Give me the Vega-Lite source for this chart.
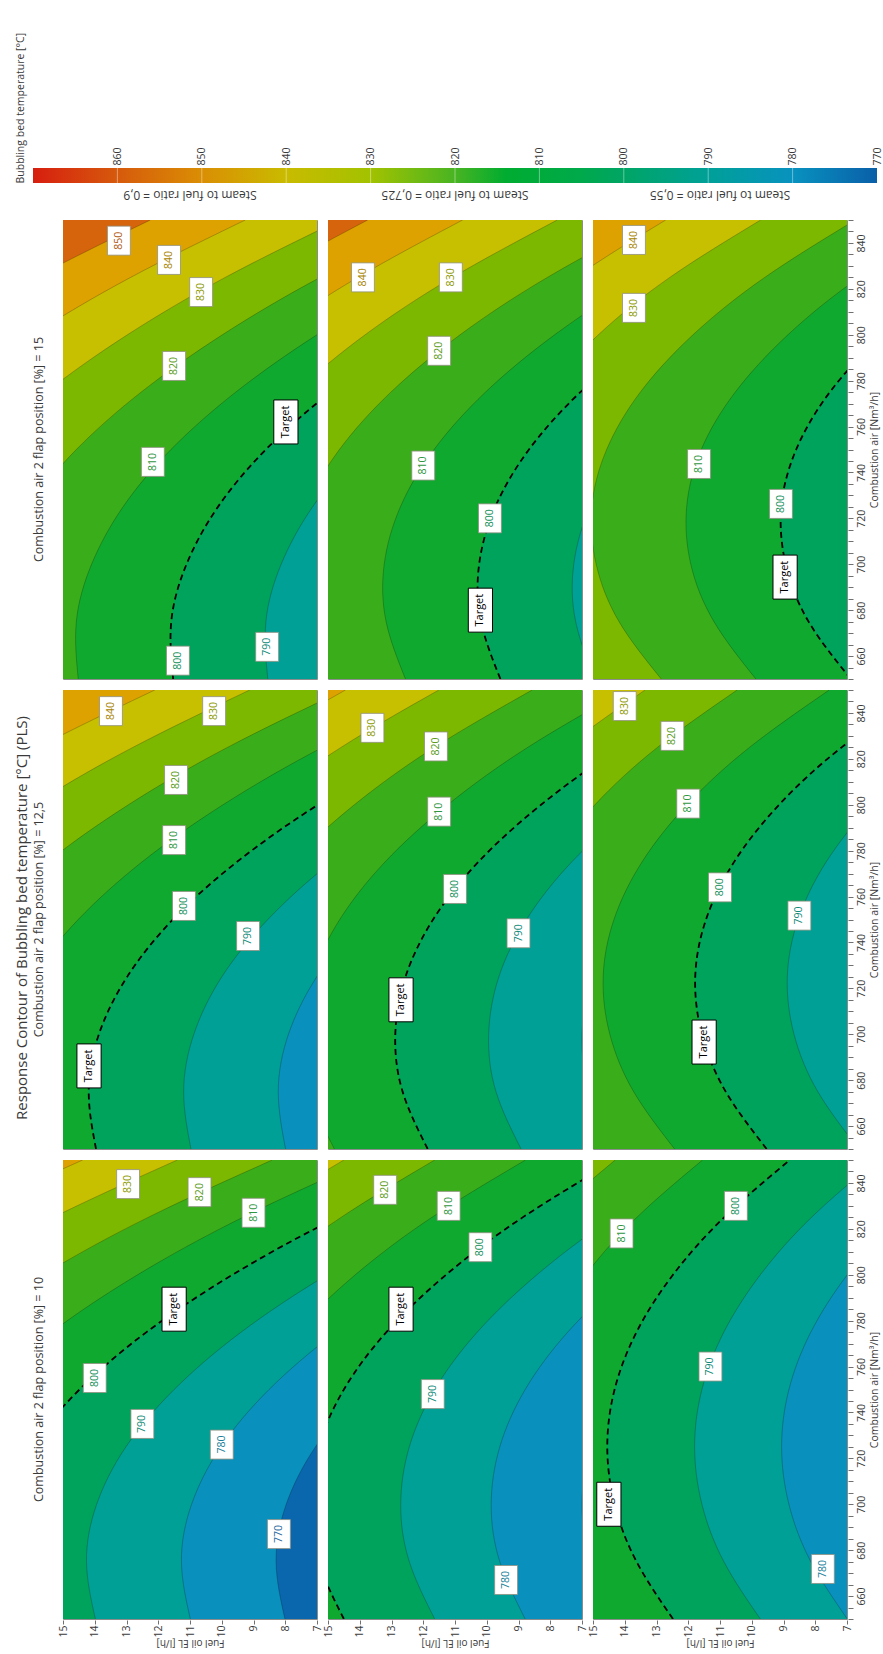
{
"$schema": "https://vega.github.io/schema/vega-lite/v6.json",
"background": "white",
"padding": {"left": 14, "top": 8, "right": 0, "bottom": 7},
"spacing": 4,
"config": {
  "font": "Open Sans",
  "view": {"stroke": "#8c8c8c", "strokeWidth": 1},
  "axis": {"labelFont": "Open Sans", "titleFont": "Open Sans", "labelColor": "#3a3a3a", "titleColor": "#3a3a3a", "tickColor": "#707070", "domain": false, "grid": false, "labelFontSize": 10.5, "titleFontSize": 10.5, "titleFontWeight": "normal"},
  "header": {"labelFont": "Open Sans", "labelColor": "#3a3a3a"},
  "title": {"font": "Open Sans", "fontWeight": "normal", "color": "#3a3a3a"},
  "text": {"font": "Open Sans"}
},
"vconcat": [
{
  "width": 814, "height": 175,
  "view": {"stroke": null},
  "title": {"text": "Bubbling bed temperature [°C]", "orient": "left", "anchor": "start", "fontSize": 10.5, "offset": 7},
  "layer": [
    {
      "data": {"values": [{"hi": 870, "lo": 770}]},
      "mark": {"type": "rect", "fill": {"gradient": "linear", "x1": 0, "y1": 0, "x2": 1, "y2": 0, "stops": [
        {"offset": 0, "color": "#d71e10"},
        {"offset": 0.1, "color": "#d65a0c"},
        {"offset": 0.2, "color": "#da8e04"},
        {"offset": 0.3, "color": "#c9bb00"},
        {"offset": 0.4, "color": "#a2c200"},
        {"offset": 0.5, "color": "#48b422"},
        {"offset": 0.56, "color": "#00ac30"},
        {"offset": 0.65, "color": "#00a94b"},
        {"offset": 0.7, "color": "#00a565"},
        {"offset": 0.8, "color": "#00a098"},
        {"offset": 0.9, "color": "#0892bf"},
        {"offset": 1, "color": "#0a5fa8"}]}},
      "encoding": {
        "x": {"field": "hi", "type": "quantitative", "scale": {"domain": [770, 870], "range": [814, -30], "nice": false, "zero": false},
              "axis": {"orient": "top", "offset": -160, "values": [770,780,790,800,810,820,830,840,850,860], "labelAngle": 270, "labelAlign": "left", "labelBaseline": "middle", "ticks": false, "tickSize": 0, "labelPadding": 3, "grid": false, "title": null, "labelFlush": false, "labelFontSize": 10.5}},
        "x2": {"field": "lo"},
        "y": {"datum": 0, "type": "quantitative", "scale": {"domain": [0, 11.6667], "nice": false, "zero": false}, "axis": null},
        "y2": {"datum": 1}
      }
    },
    {
      "data": {"values": [{"hi": 780},{"hi": 790},{"hi": 800},{"hi": 810},{"hi": 820},{"hi": 830},{"hi": 840},{"hi": 850},{"hi": 860}]},
      "mark": {"type": "rule", "color": "#ffffff", "opacity": 0.4, "strokeWidth": 1},
      "encoding": {"x": {"field": "hi", "type": "quantitative"}, "y": {"datum": 0}, "y2": {"datum": 1}}
    }
  ]
},
{
  "title": {"text": "Response Contour of Bubbling bed temperature [°C] (PLS)", "orient": "left", "anchor": "middle", "fontSize": 15, "offset": 3},
  "data": {"values": [
{"c":"0,9","r":"15","k":"a","L":780,"a":650,"f":5.56},{"c":"0,9","r":"15","k":"a","L":780,"a":850,"f":-8.65},
{"c":"0,9","r":"15","k":"a","L":790,"a":650,"f":8.55},{"c":"0,9","r":"15","k":"a","L":790,"a":675,"f":8.61},{"c":"0,9","r":"15","k":"a","L":790,"a":700,"f":8.13},{"c":"0,9","r":"15","k":"a","L":790,"a":725,"f":7.14},{"c":"0,9","r":"15","k":"a","L":790,"a":750,"f":5.63},{"c":"0,9","r":"15","k":"a","L":790,"a":775,"f":3.59},{"c":"0,9","r":"15","k":"a","L":790,"a":800,"f":1.03},{"c":"0,9","r":"15","k":"a","L":790,"a":825,"f":-2.06},{"c":"0,9","r":"15","k":"a","L":790,"a":850,"f":-5.66},
{"c":"0,9","r":"15","k":"a","L":800,"a":650,"f":11.53},{"c":"0,9","r":"15","k":"a","L":800,"a":675,"f":11.59},{"c":"0,9","r":"15","k":"a","L":800,"a":700,"f":11.11},{"c":"0,9","r":"15","k":"a","L":800,"a":725,"f":10.12},{"c":"0,9","r":"15","k":"a","L":800,"a":750,"f":8.61},{"c":"0,9","r":"15","k":"a","L":800,"a":775,"f":6.57},{"c":"0,9","r":"15","k":"a","L":800,"a":800,"f":4.01},{"c":"0,9","r":"15","k":"a","L":800,"a":825,"f":0.93},{"c":"0,9","r":"15","k":"a","L":800,"a":850,"f":-2.68},
{"c":"0,9","r":"15","k":"a","L":810,"a":650,"f":14.52},{"c":"0,9","r":"15","k":"a","L":810,"a":675,"f":14.58},{"c":"0,9","r":"15","k":"a","L":810,"a":700,"f":14.10},{"c":"0,9","r":"15","k":"a","L":810,"a":725,"f":13.11},{"c":"0,9","r":"15","k":"a","L":810,"a":750,"f":11.60},{"c":"0,9","r":"15","k":"a","L":810,"a":775,"f":9.56},{"c":"0,9","r":"15","k":"a","L":810,"a":800,"f":7.00},{"c":"0,9","r":"15","k":"a","L":810,"a":825,"f":3.92},{"c":"0,9","r":"15","k":"a","L":810,"a":850,"f":0.31},
{"c":"0,9","r":"15","k":"a","L":820,"a":650,"f":17.50},{"c":"0,9","r":"15","k":"a","L":820,"a":675,"f":17.56},{"c":"0,9","r":"15","k":"a","L":820,"a":700,"f":17.08},{"c":"0,9","r":"15","k":"a","L":820,"a":725,"f":16.09},{"c":"0,9","r":"15","k":"a","L":820,"a":750,"f":14.58},{"c":"0,9","r":"15","k":"a","L":820,"a":775,"f":12.54},{"c":"0,9","r":"15","k":"a","L":820,"a":800,"f":9.98},{"c":"0,9","r":"15","k":"a","L":820,"a":825,"f":6.90},{"c":"0,9","r":"15","k":"a","L":820,"a":850,"f":3.29},
{"c":"0,9","r":"15","k":"a","L":830,"a":650,"f":20.49},{"c":"0,9","r":"15","k":"a","L":830,"a":675,"f":20.55},{"c":"0,9","r":"15","k":"a","L":830,"a":700,"f":20.07},{"c":"0,9","r":"15","k":"a","L":830,"a":725,"f":19.08},{"c":"0,9","r":"15","k":"a","L":830,"a":750,"f":17.57},{"c":"0,9","r":"15","k":"a","L":830,"a":775,"f":15.53},{"c":"0,9","r":"15","k":"a","L":830,"a":800,"f":12.97},{"c":"0,9","r":"15","k":"a","L":830,"a":825,"f":9.89},{"c":"0,9","r":"15","k":"a","L":830,"a":850,"f":6.28},
{"c":"0,9","r":"15","k":"a","L":840,"a":650,"f":23.47},{"c":"0,9","r":"15","k":"a","L":840,"a":675,"f":23.53},{"c":"0,9","r":"15","k":"a","L":840,"a":700,"f":23.05},{"c":"0,9","r":"15","k":"a","L":840,"a":725,"f":22.06},{"c":"0,9","r":"15","k":"a","L":840,"a":750,"f":20.55},{"c":"0,9","r":"15","k":"a","L":840,"a":775,"f":18.51},{"c":"0,9","r":"15","k":"a","L":840,"a":800,"f":15.95},{"c":"0,9","r":"15","k":"a","L":840,"a":825,"f":12.87},{"c":"0,9","r":"15","k":"a","L":840,"a":850,"f":9.26},
{"c":"0,9","r":"15","k":"a","L":850,"a":650,"f":26.46},{"c":"0,9","r":"15","k":"a","L":850,"a":675,"f":26.52},{"c":"0,9","r":"15","k":"a","L":850,"a":700,"f":26.04},{"c":"0,9","r":"15","k":"a","L":850,"a":725,"f":25.05},{"c":"0,9","r":"15","k":"a","L":850,"a":750,"f":23.54},{"c":"0,9","r":"15","k":"a","L":850,"a":775,"f":21.50},{"c":"0,9","r":"15","k":"a","L":850,"a":800,"f":18.94},{"c":"0,9","r":"15","k":"a","L":850,"a":825,"f":15.86},{"c":"0,9","r":"15","k":"a","L":850,"a":850,"f":12.25},

{"c":"0,725","r":"15","k":"a","L":780,"a":650,"f":3.60},{"c":"0,725","r":"15","k":"a","L":780,"a":850,"f":-7.15},
{"c":"0,725","r":"15","k":"a","L":790,"a":650,"f":6.59},{"c":"0,725","r":"15","k":"a","L":790,"a":675,"f":7.20},{"c":"0,725","r":"15","k":"a","L":790,"a":700,"f":7.26},{"c":"0,725","r":"15","k":"a","L":790,"a":725,"f":6.75},{"c":"0,725","r":"15","k":"a","L":790,"a":750,"f":5.69},{"c":"0,725","r":"15","k":"a","L":790,"a":775,"f":4.07},{"c":"0,725","r":"15","k":"a","L":790,"a":800,"f":1.89},{"c":"0,725","r":"15","k":"a","L":790,"a":825,"f":-0.87},{"c":"0,725","r":"15","k":"a","L":790,"a":850,"f":-4.16},
{"c":"0,725","r":"15","k":"a","L":800,"a":650,"f":9.57},{"c":"0,725","r":"15","k":"a","L":800,"a":675,"f":10.18},{"c":"0,725","r":"15","k":"a","L":800,"a":700,"f":10.24},{"c":"0,725","r":"15","k":"a","L":800,"a":725,"f":9.73},{"c":"0,725","r":"15","k":"a","L":800,"a":750,"f":8.67},{"c":"0,725","r":"15","k":"a","L":800,"a":775,"f":7.05},{"c":"0,725","r":"15","k":"a","L":800,"a":800,"f":4.87},{"c":"0,725","r":"15","k":"a","L":800,"a":825,"f":2.12},{"c":"0,725","r":"15","k":"a","L":800,"a":850,"f":-1.18},
{"c":"0,725","r":"15","k":"a","L":810,"a":650,"f":12.56},{"c":"0,725","r":"15","k":"a","L":810,"a":675,"f":13.17},{"c":"0,725","r":"15","k":"a","L":810,"a":700,"f":13.23},{"c":"0,725","r":"15","k":"a","L":810,"a":725,"f":12.72},{"c":"0,725","r":"15","k":"a","L":810,"a":750,"f":11.66},{"c":"0,725","r":"15","k":"a","L":810,"a":775,"f":10.04},{"c":"0,725","r":"15","k":"a","L":810,"a":800,"f":7.86},{"c":"0,725","r":"15","k":"a","L":810,"a":825,"f":5.11},{"c":"0,725","r":"15","k":"a","L":810,"a":850,"f":1.81},
{"c":"0,725","r":"15","k":"a","L":820,"a":650,"f":15.54},{"c":"0,725","r":"15","k":"a","L":820,"a":675,"f":16.15},{"c":"0,725","r":"15","k":"a","L":820,"a":700,"f":16.21},{"c":"0,725","r":"15","k":"a","L":820,"a":725,"f":15.70},{"c":"0,725","r":"15","k":"a","L":820,"a":750,"f":14.64},{"c":"0,725","r":"15","k":"a","L":820,"a":775,"f":13.02},{"c":"0,725","r":"15","k":"a","L":820,"a":800,"f":10.84},{"c":"0,725","r":"15","k":"a","L":820,"a":825,"f":8.09},{"c":"0,725","r":"15","k":"a","L":820,"a":850,"f":4.79},
{"c":"0,725","r":"15","k":"a","L":830,"a":650,"f":18.53},{"c":"0,725","r":"15","k":"a","L":830,"a":675,"f":19.14},{"c":"0,725","r":"15","k":"a","L":830,"a":700,"f":19.20},{"c":"0,725","r":"15","k":"a","L":830,"a":725,"f":18.69},{"c":"0,725","r":"15","k":"a","L":830,"a":750,"f":17.63},{"c":"0,725","r":"15","k":"a","L":830,"a":775,"f":16.01},{"c":"0,725","r":"15","k":"a","L":830,"a":800,"f":13.83},{"c":"0,725","r":"15","k":"a","L":830,"a":825,"f":11.08},{"c":"0,725","r":"15","k":"a","L":830,"a":850,"f":7.78},
{"c":"0,725","r":"15","k":"a","L":840,"a":650,"f":21.51},{"c":"0,725","r":"15","k":"a","L":840,"a":675,"f":22.12},{"c":"0,725","r":"15","k":"a","L":840,"a":700,"f":22.18},{"c":"0,725","r":"15","k":"a","L":840,"a":725,"f":21.67},{"c":"0,725","r":"15","k":"a","L":840,"a":750,"f":20.61},{"c":"0,725","r":"15","k":"a","L":840,"a":775,"f":18.99},{"c":"0,725","r":"15","k":"a","L":840,"a":800,"f":16.81},{"c":"0,725","r":"15","k":"a","L":840,"a":825,"f":14.06},{"c":"0,725","r":"15","k":"a","L":840,"a":850,"f":10.76},
{"c":"0,725","r":"15","k":"a","L":850,"a":650,"f":24.50},{"c":"0,725","r":"15","k":"a","L":850,"a":675,"f":25.11},{"c":"0,725","r":"15","k":"a","L":850,"a":700,"f":25.17},{"c":"0,725","r":"15","k":"a","L":850,"a":725,"f":24.66},{"c":"0,725","r":"15","k":"a","L":850,"a":750,"f":23.60},{"c":"0,725","r":"15","k":"a","L":850,"a":775,"f":21.98},{"c":"0,725","r":"15","k":"a","L":850,"a":800,"f":19.80},{"c":"0,725","r":"15","k":"a","L":850,"a":825,"f":17.05},{"c":"0,725","r":"15","k":"a","L":850,"a":850,"f":13.75},

{"c":"0,55","r":"15","k":"a","L":790,"a":650,"f":3.90},{"c":"0,55","r":"15","k":"a","L":790,"a":850,"f":-2.22},
{"c":"0,55","r":"15","k":"a","L":800,"a":650,"f":6.88},{"c":"0,55","r":"15","k":"a","L":800,"a":675,"f":8.21},{"c":"0,55","r":"15","k":"a","L":800,"a":700,"f":8.93},{"c":"0,55","r":"15","k":"a","L":800,"a":725,"f":9.07},{"c":"0,55","r":"15","k":"a","L":800,"a":750,"f":8.60},{"c":"0,55","r":"15","k":"a","L":800,"a":775,"f":7.54},{"c":"0,55","r":"15","k":"a","L":800,"a":800,"f":5.88},{"c":"0,55","r":"15","k":"a","L":800,"a":825,"f":3.62},{"c":"0,55","r":"15","k":"a","L":800,"a":850,"f":0.77},
{"c":"0,55","r":"15","k":"a","L":810,"a":650,"f":9.87},{"c":"0,55","r":"15","k":"a","L":810,"a":675,"f":11.19},{"c":"0,55","r":"15","k":"a","L":810,"a":700,"f":11.92},{"c":"0,55","r":"15","k":"a","L":810,"a":725,"f":12.05},{"c":"0,55","r":"15","k":"a","L":810,"a":750,"f":11.59},{"c":"0,55","r":"15","k":"a","L":810,"a":775,"f":10.52},{"c":"0,55","r":"15","k":"a","L":810,"a":800,"f":8.86},{"c":"0,55","r":"15","k":"a","L":810,"a":825,"f":6.61},{"c":"0,55","r":"15","k":"a","L":810,"a":850,"f":3.75},
{"c":"0,55","r":"15","k":"a","L":820,"a":650,"f":12.85},{"c":"0,55","r":"15","k":"a","L":820,"a":675,"f":14.18},{"c":"0,55","r":"15","k":"a","L":820,"a":700,"f":14.90},{"c":"0,55","r":"15","k":"a","L":820,"a":725,"f":15.04},{"c":"0,55","r":"15","k":"a","L":820,"a":750,"f":14.57},{"c":"0,55","r":"15","k":"a","L":820,"a":775,"f":13.51},{"c":"0,55","r":"15","k":"a","L":820,"a":800,"f":11.85},{"c":"0,55","r":"15","k":"a","L":820,"a":825,"f":9.59},{"c":"0,55","r":"15","k":"a","L":820,"a":850,"f":6.74},
{"c":"0,55","r":"15","k":"a","L":830,"a":650,"f":15.84},{"c":"0,55","r":"15","k":"a","L":830,"a":675,"f":17.16},{"c":"0,55","r":"15","k":"a","L":830,"a":700,"f":17.89},{"c":"0,55","r":"15","k":"a","L":830,"a":725,"f":18.02},{"c":"0,55","r":"15","k":"a","L":830,"a":750,"f":17.56},{"c":"0,55","r":"15","k":"a","L":830,"a":775,"f":16.49},{"c":"0,55","r":"15","k":"a","L":830,"a":800,"f":14.83},{"c":"0,55","r":"15","k":"a","L":830,"a":825,"f":12.58},{"c":"0,55","r":"15","k":"a","L":830,"a":850,"f":9.72},
{"c":"0,55","r":"15","k":"a","L":840,"a":650,"f":18.82},{"c":"0,55","r":"15","k":"a","L":840,"a":675,"f":20.15},{"c":"0,55","r":"15","k":"a","L":840,"a":700,"f":20.87},{"c":"0,55","r":"15","k":"a","L":840,"a":725,"f":21.01},{"c":"0,55","r":"15","k":"a","L":840,"a":750,"f":20.54},{"c":"0,55","r":"15","k":"a","L":840,"a":775,"f":19.48},{"c":"0,55","r":"15","k":"a","L":840,"a":800,"f":17.82},{"c":"0,55","r":"15","k":"a","L":840,"a":825,"f":15.56},{"c":"0,55","r":"15","k":"a","L":840,"a":850,"f":12.71},

{"c":"0,9","r":"12,5","k":"a","L":770,"a":650,"f":5.00},{"c":"0,9","r":"12,5","k":"a","L":770,"a":850,"f":-8.79},
{"c":"0,9","r":"12,5","k":"a","L":780,"a":650,"f":7.99},{"c":"0,9","r":"12,5","k":"a","L":780,"a":675,"f":8.22},{"c":"0,9","r":"12,5","k":"a","L":780,"a":700,"f":7.90},{"c":"0,9","r":"12,5","k":"a","L":780,"a":725,"f":7.01},{"c":"0,9","r":"12,5","k":"a","L":780,"a":750,"f":5.57},{"c":"0,9","r":"12,5","k":"a","L":780,"a":775,"f":3.56},{"c":"0,9","r":"12,5","k":"a","L":780,"a":800,"f":1.00},{"c":"0,9","r":"12,5","k":"a","L":780,"a":825,"f":-2.12},{"c":"0,9","r":"12,5","k":"a","L":780,"a":850,"f":-5.80},
{"c":"0,9","r":"12,5","k":"a","L":790,"a":650,"f":10.97},{"c":"0,9","r":"12,5","k":"a","L":790,"a":675,"f":11.20},{"c":"0,9","r":"12,5","k":"a","L":790,"a":700,"f":10.88},{"c":"0,9","r":"12,5","k":"a","L":790,"a":725,"f":10.00},{"c":"0,9","r":"12,5","k":"a","L":790,"a":750,"f":8.55},{"c":"0,9","r":"12,5","k":"a","L":790,"a":775,"f":6.55},{"c":"0,9","r":"12,5","k":"a","L":790,"a":800,"f":3.99},{"c":"0,9","r":"12,5","k":"a","L":790,"a":825,"f":0.86},{"c":"0,9","r":"12,5","k":"a","L":790,"a":850,"f":-2.82},
{"c":"0,9","r":"12,5","k":"a","L":800,"a":650,"f":13.96},{"c":"0,9","r":"12,5","k":"a","L":800,"a":675,"f":14.19},{"c":"0,9","r":"12,5","k":"a","L":800,"a":700,"f":13.87},{"c":"0,9","r":"12,5","k":"a","L":800,"a":725,"f":12.98},{"c":"0,9","r":"12,5","k":"a","L":800,"a":750,"f":11.54},{"c":"0,9","r":"12,5","k":"a","L":800,"a":775,"f":9.53},{"c":"0,9","r":"12,5","k":"a","L":800,"a":800,"f":6.97},{"c":"0,9","r":"12,5","k":"a","L":800,"a":825,"f":3.85},{"c":"0,9","r":"12,5","k":"a","L":800,"a":850,"f":0.17},
{"c":"0,9","r":"12,5","k":"a","L":810,"a":650,"f":16.94},{"c":"0,9","r":"12,5","k":"a","L":810,"a":675,"f":17.17},{"c":"0,9","r":"12,5","k":"a","L":810,"a":700,"f":16.85},{"c":"0,9","r":"12,5","k":"a","L":810,"a":725,"f":15.97},{"c":"0,9","r":"12,5","k":"a","L":810,"a":750,"f":14.52},{"c":"0,9","r":"12,5","k":"a","L":810,"a":775,"f":12.52},{"c":"0,9","r":"12,5","k":"a","L":810,"a":800,"f":9.96},{"c":"0,9","r":"12,5","k":"a","L":810,"a":825,"f":6.83},{"c":"0,9","r":"12,5","k":"a","L":810,"a":850,"f":3.15},
{"c":"0,9","r":"12,5","k":"a","L":820,"a":650,"f":19.93},{"c":"0,9","r":"12,5","k":"a","L":820,"a":675,"f":20.16},{"c":"0,9","r":"12,5","k":"a","L":820,"a":700,"f":19.84},{"c":"0,9","r":"12,5","k":"a","L":820,"a":725,"f":18.95},{"c":"0,9","r":"12,5","k":"a","L":820,"a":750,"f":17.51},{"c":"0,9","r":"12,5","k":"a","L":820,"a":775,"f":15.50},{"c":"0,9","r":"12,5","k":"a","L":820,"a":800,"f":12.94},{"c":"0,9","r":"12,5","k":"a","L":820,"a":825,"f":9.82},{"c":"0,9","r":"12,5","k":"a","L":820,"a":850,"f":6.14},
{"c":"0,9","r":"12,5","k":"a","L":830,"a":650,"f":22.91},{"c":"0,9","r":"12,5","k":"a","L":830,"a":675,"f":23.14},{"c":"0,9","r":"12,5","k":"a","L":830,"a":700,"f":22.82},{"c":"0,9","r":"12,5","k":"a","L":830,"a":725,"f":21.94},{"c":"0,9","r":"12,5","k":"a","L":830,"a":750,"f":20.49},{"c":"0,9","r":"12,5","k":"a","L":830,"a":775,"f":18.49},{"c":"0,9","r":"12,5","k":"a","L":830,"a":800,"f":15.93},{"c":"0,9","r":"12,5","k":"a","L":830,"a":825,"f":12.80},{"c":"0,9","r":"12,5","k":"a","L":830,"a":850,"f":9.12},
{"c":"0,9","r":"12,5","k":"a","L":840,"a":650,"f":25.90},{"c":"0,9","r":"12,5","k":"a","L":840,"a":675,"f":26.13},{"c":"0,9","r":"12,5","k":"a","L":840,"a":700,"f":25.81},{"c":"0,9","r":"12,5","k":"a","L":840,"a":725,"f":24.92},{"c":"0,9","r":"12,5","k":"a","L":840,"a":750,"f":23.48},{"c":"0,9","r":"12,5","k":"a","L":840,"a":775,"f":21.47},{"c":"0,9","r":"12,5","k":"a","L":840,"a":800,"f":18.91},{"c":"0,9","r":"12,5","k":"a","L":840,"a":825,"f":15.79},{"c":"0,9","r":"12,5","k":"a","L":840,"a":850,"f":12.11},

{"c":"0,725","r":"12,5","k":"a","L":770,"a":650,"f":3.04},{"c":"0,725","r":"12,5","k":"a","L":770,"a":850,"f":-6.13},
{"c":"0,725","r":"12,5","k":"a","L":780,"a":650,"f":5.98},{"c":"0,725","r":"12,5","k":"a","L":780,"a":675,"f":6.77},{"c":"0,725","r":"12,5","k":"a","L":780,"a":700,"f":7.00},{"c":"0,725","r":"12,5","k":"a","L":780,"a":725,"f":6.68},{"c":"0,725","r":"12,5","k":"a","L":780,"a":750,"f":5.81},{"c":"0,725","r":"12,5","k":"a","L":780,"a":775,"f":4.39},{"c":"0,725","r":"12,5","k":"a","L":780,"a":800,"f":2.41},{"c":"0,725","r":"12,5","k":"a","L":780,"a":825,"f":-0.11},{"c":"0,725","r":"12,5","k":"a","L":780,"a":850,"f":-3.19},
{"c":"0,725","r":"12,5","k":"a","L":790,"a":650,"f":8.92},{"c":"0,725","r":"12,5","k":"a","L":790,"a":675,"f":9.71},{"c":"0,725","r":"12,5","k":"a","L":790,"a":700,"f":9.94},{"c":"0,725","r":"12,5","k":"a","L":790,"a":725,"f":9.62},{"c":"0,725","r":"12,5","k":"a","L":790,"a":750,"f":8.75},{"c":"0,725","r":"12,5","k":"a","L":790,"a":775,"f":7.33},{"c":"0,725","r":"12,5","k":"a","L":790,"a":800,"f":5.35},{"c":"0,725","r":"12,5","k":"a","L":790,"a":825,"f":2.83},{"c":"0,725","r":"12,5","k":"a","L":790,"a":850,"f":-0.25},
{"c":"0,725","r":"12,5","k":"a","L":800,"a":650,"f":11.86},{"c":"0,725","r":"12,5","k":"a","L":800,"a":675,"f":12.65},{"c":"0,725","r":"12,5","k":"a","L":800,"a":700,"f":12.88},{"c":"0,725","r":"12,5","k":"a","L":800,"a":725,"f":12.56},{"c":"0,725","r":"12,5","k":"a","L":800,"a":750,"f":11.69},{"c":"0,725","r":"12,5","k":"a","L":800,"a":775,"f":10.27},{"c":"0,725","r":"12,5","k":"a","L":800,"a":800,"f":8.29},{"c":"0,725","r":"12,5","k":"a","L":800,"a":825,"f":5.77},{"c":"0,725","r":"12,5","k":"a","L":800,"a":850,"f":2.69},
{"c":"0,725","r":"12,5","k":"a","L":810,"a":650,"f":14.80},{"c":"0,725","r":"12,5","k":"a","L":810,"a":675,"f":15.59},{"c":"0,725","r":"12,5","k":"a","L":810,"a":700,"f":15.82},{"c":"0,725","r":"12,5","k":"a","L":810,"a":725,"f":15.50},{"c":"0,725","r":"12,5","k":"a","L":810,"a":750,"f":14.63},{"c":"0,725","r":"12,5","k":"a","L":810,"a":775,"f":13.21},{"c":"0,725","r":"12,5","k":"a","L":810,"a":800,"f":11.23},{"c":"0,725","r":"12,5","k":"a","L":810,"a":825,"f":8.71},{"c":"0,725","r":"12,5","k":"a","L":810,"a":850,"f":5.63},
{"c":"0,725","r":"12,5","k":"a","L":820,"a":650,"f":17.74},{"c":"0,725","r":"12,5","k":"a","L":820,"a":675,"f":18.53},{"c":"0,725","r":"12,5","k":"a","L":820,"a":700,"f":18.76},{"c":"0,725","r":"12,5","k":"a","L":820,"a":725,"f":18.44},{"c":"0,725","r":"12,5","k":"a","L":820,"a":750,"f":17.57},{"c":"0,725","r":"12,5","k":"a","L":820,"a":775,"f":16.15},{"c":"0,725","r":"12,5","k":"a","L":820,"a":800,"f":14.17},{"c":"0,725","r":"12,5","k":"a","L":820,"a":825,"f":11.65},{"c":"0,725","r":"12,5","k":"a","L":820,"a":850,"f":8.57},
{"c":"0,725","r":"12,5","k":"a","L":830,"a":650,"f":20.68},{"c":"0,725","r":"12,5","k":"a","L":830,"a":675,"f":21.47},{"c":"0,725","r":"12,5","k":"a","L":830,"a":700,"f":21.70},{"c":"0,725","r":"12,5","k":"a","L":830,"a":725,"f":21.38},{"c":"0,725","r":"12,5","k":"a","L":830,"a":750,"f":20.51},{"c":"0,725","r":"12,5","k":"a","L":830,"a":775,"f":19.09},{"c":"0,725","r":"12,5","k":"a","L":830,"a":800,"f":17.11},{"c":"0,725","r":"12,5","k":"a","L":830,"a":825,"f":14.59},{"c":"0,725","r":"12,5","k":"a","L":830,"a":850,"f":11.51},
{"c":"0,725","r":"12,5","k":"a","L":840,"a":650,"f":23.62},{"c":"0,725","r":"12,5","k":"a","L":840,"a":675,"f":24.41},{"c":"0,725","r":"12,5","k":"a","L":840,"a":700,"f":24.64},{"c":"0,725","r":"12,5","k":"a","L":840,"a":725,"f":24.32},{"c":"0,725","r":"12,5","k":"a","L":840,"a":750,"f":23.45},{"c":"0,725","r":"12,5","k":"a","L":840,"a":775,"f":22.03},{"c":"0,725","r":"12,5","k":"a","L":840,"a":800,"f":20.05},{"c":"0,725","r":"12,5","k":"a","L":840,"a":825,"f":17.53},{"c":"0,725","r":"12,5","k":"a","L":840,"a":850,"f":14.45},

{"c":"0,55","r":"12,5","k":"a","L":780,"a":650,"f":3.73},{"c":"0,55","r":"12,5","k":"a","L":780,"a":850,"f":-1.14},
{"c":"0,55","r":"12,5","k":"a","L":790,"a":650,"f":6.63},{"c":"0,55","r":"12,5","k":"a","L":790,"a":675,"f":7.92},{"c":"0,55","r":"12,5","k":"a","L":790,"a":700,"f":8.67},{"c":"0,55","r":"12,5","k":"a","L":790,"a":725,"f":8.88},{"c":"0,55","r":"12,5","k":"a","L":790,"a":750,"f":8.54},{"c":"0,55","r":"12,5","k":"a","L":790,"a":775,"f":7.66},{"c":"0,55","r":"12,5","k":"a","L":790,"a":800,"f":6.24},{"c":"0,55","r":"12,5","k":"a","L":790,"a":825,"f":4.27},{"c":"0,55","r":"12,5","k":"a","L":790,"a":850,"f":1.76},
{"c":"0,55","r":"12,5","k":"a","L":800,"a":650,"f":9.53},{"c":"0,55","r":"12,5","k":"a","L":800,"a":675,"f":10.82},{"c":"0,55","r":"12,5","k":"a","L":800,"a":700,"f":11.57},{"c":"0,55","r":"12,5","k":"a","L":800,"a":725,"f":11.78},{"c":"0,55","r":"12,5","k":"a","L":800,"a":750,"f":11.44},{"c":"0,55","r":"12,5","k":"a","L":800,"a":775,"f":10.56},{"c":"0,55","r":"12,5","k":"a","L":800,"a":800,"f":9.14},{"c":"0,55","r":"12,5","k":"a","L":800,"a":825,"f":7.17},{"c":"0,55","r":"12,5","k":"a","L":800,"a":850,"f":4.66},
{"c":"0,55","r":"12,5","k":"a","L":810,"a":650,"f":12.43},{"c":"0,55","r":"12,5","k":"a","L":810,"a":675,"f":13.72},{"c":"0,55","r":"12,5","k":"a","L":810,"a":700,"f":14.47},{"c":"0,55","r":"12,5","k":"a","L":810,"a":725,"f":14.68},{"c":"0,55","r":"12,5","k":"a","L":810,"a":750,"f":14.34},{"c":"0,55","r":"12,5","k":"a","L":810,"a":775,"f":13.46},{"c":"0,55","r":"12,5","k":"a","L":810,"a":800,"f":12.04},{"c":"0,55","r":"12,5","k":"a","L":810,"a":825,"f":10.07},{"c":"0,55","r":"12,5","k":"a","L":810,"a":850,"f":7.56},
{"c":"0,55","r":"12,5","k":"a","L":820,"a":650,"f":15.33},{"c":"0,55","r":"12,5","k":"a","L":820,"a":675,"f":16.62},{"c":"0,55","r":"12,5","k":"a","L":820,"a":700,"f":17.37},{"c":"0,55","r":"12,5","k":"a","L":820,"a":725,"f":17.58},{"c":"0,55","r":"12,5","k":"a","L":820,"a":750,"f":17.24},{"c":"0,55","r":"12,5","k":"a","L":820,"a":775,"f":16.36},{"c":"0,55","r":"12,5","k":"a","L":820,"a":800,"f":14.94},{"c":"0,55","r":"12,5","k":"a","L":820,"a":825,"f":12.97},{"c":"0,55","r":"12,5","k":"a","L":820,"a":850,"f":10.46},
{"c":"0,55","r":"12,5","k":"a","L":830,"a":650,"f":18.23},{"c":"0,55","r":"12,5","k":"a","L":830,"a":675,"f":19.52},{"c":"0,55","r":"12,5","k":"a","L":830,"a":700,"f":20.27},{"c":"0,55","r":"12,5","k":"a","L":830,"a":725,"f":20.48},{"c":"0,55","r":"12,5","k":"a","L":830,"a":750,"f":20.14},{"c":"0,55","r":"12,5","k":"a","L":830,"a":775,"f":19.26},{"c":"0,55","r":"12,5","k":"a","L":830,"a":800,"f":17.84},{"c":"0,55","r":"12,5","k":"a","L":830,"a":825,"f":15.87},{"c":"0,55","r":"12,5","k":"a","L":830,"a":850,"f":13.36},

{"c":"0,9","r":"10","k":"a","L":760,"a":650,"f":5.02},{"c":"0,9","r":"10","k":"a","L":760,"a":850,"f":-9.50},
{"c":"0,9","r":"10","k":"a","L":770,"a":650,"f":8.01},{"c":"0,9","r":"10","k":"a","L":770,"a":675,"f":8.29},{"c":"0,9","r":"10","k":"a","L":770,"a":700,"f":7.97},{"c":"0,9","r":"10","k":"a","L":770,"a":725,"f":7.05},{"c":"0,9","r":"10","k":"a","L":770,"a":750,"f":5.53},{"c":"0,9","r":"10","k":"a","L":770,"a":775,"f":3.42},{"c":"0,9","r":"10","k":"a","L":770,"a":800,"f":0.71},{"c":"0,9","r":"10","k":"a","L":770,"a":825,"f":-2.61},{"c":"0,9","r":"10","k":"a","L":770,"a":850,"f":-6.52},
{"c":"0,9","r":"10","k":"a","L":780,"a":650,"f":10.99},{"c":"0,9","r":"10","k":"a","L":780,"a":675,"f":11.27},{"c":"0,9","r":"10","k":"a","L":780,"a":700,"f":10.95},{"c":"0,9","r":"10","k":"a","L":780,"a":725,"f":10.03},{"c":"0,9","r":"10","k":"a","L":780,"a":750,"f":8.51},{"c":"0,9","r":"10","k":"a","L":780,"a":775,"f":6.40},{"c":"0,9","r":"10","k":"a","L":780,"a":800,"f":3.69},{"c":"0,9","r":"10","k":"a","L":780,"a":825,"f":0.38},{"c":"0,9","r":"10","k":"a","L":780,"a":850,"f":-3.53},
{"c":"0,9","r":"10","k":"a","L":790,"a":650,"f":13.98},{"c":"0,9","r":"10","k":"a","L":790,"a":675,"f":14.26},{"c":"0,9","r":"10","k":"a","L":790,"a":700,"f":13.94},{"c":"0,9","r":"10","k":"a","L":790,"a":725,"f":13.02},{"c":"0,9","r":"10","k":"a","L":790,"a":750,"f":11.50},{"c":"0,9","r":"10","k":"a","L":790,"a":775,"f":9.39},{"c":"0,9","r":"10","k":"a","L":790,"a":800,"f":6.68},{"c":"0,9","r":"10","k":"a","L":790,"a":825,"f":3.37},{"c":"0,9","r":"10","k":"a","L":790,"a":850,"f":-0.55},
{"c":"0,9","r":"10","k":"a","L":800,"a":650,"f":16.96},{"c":"0,9","r":"10","k":"a","L":800,"a":675,"f":17.24},{"c":"0,9","r":"10","k":"a","L":800,"a":700,"f":16.92},{"c":"0,9","r":"10","k":"a","L":800,"a":725,"f":16.00},{"c":"0,9","r":"10","k":"a","L":800,"a":750,"f":14.48},{"c":"0,9","r":"10","k":"a","L":800,"a":775,"f":12.37},{"c":"0,9","r":"10","k":"a","L":800,"a":800,"f":9.66},{"c":"0,9","r":"10","k":"a","L":800,"a":825,"f":6.35},{"c":"0,9","r":"10","k":"a","L":800,"a":850,"f":2.44},
{"c":"0,9","r":"10","k":"a","L":810,"a":650,"f":19.95},{"c":"0,9","r":"10","k":"a","L":810,"a":675,"f":20.23},{"c":"0,9","r":"10","k":"a","L":810,"a":700,"f":19.91},{"c":"0,9","r":"10","k":"a","L":810,"a":725,"f":18.99},{"c":"0,9","r":"10","k":"a","L":810,"a":750,"f":17.47},{"c":"0,9","r":"10","k":"a","L":810,"a":775,"f":15.36},{"c":"0,9","r":"10","k":"a","L":810,"a":800,"f":12.65},{"c":"0,9","r":"10","k":"a","L":810,"a":825,"f":9.34},{"c":"0,9","r":"10","k":"a","L":810,"a":850,"f":5.43},
{"c":"0,9","r":"10","k":"a","L":820,"a":650,"f":22.93},{"c":"0,9","r":"10","k":"a","L":820,"a":675,"f":23.21},{"c":"0,9","r":"10","k":"a","L":820,"a":700,"f":22.89},{"c":"0,9","r":"10","k":"a","L":820,"a":725,"f":21.97},{"c":"0,9","r":"10","k":"a","L":820,"a":750,"f":20.45},{"c":"0,9","r":"10","k":"a","L":820,"a":775,"f":18.34},{"c":"0,9","r":"10","k":"a","L":820,"a":800,"f":15.63},{"c":"0,9","r":"10","k":"a","L":820,"a":825,"f":12.32},{"c":"0,9","r":"10","k":"a","L":820,"a":850,"f":8.41},
{"c":"0,9","r":"10","k":"a","L":830,"a":650,"f":25.92},{"c":"0,9","r":"10","k":"a","L":830,"a":675,"f":26.20},{"c":"0,9","r":"10","k":"a","L":830,"a":700,"f":25.88},{"c":"0,9","r":"10","k":"a","L":830,"a":725,"f":24.96},{"c":"0,9","r":"10","k":"a","L":830,"a":750,"f":23.44},{"c":"0,9","r":"10","k":"a","L":830,"a":775,"f":21.33},{"c":"0,9","r":"10","k":"a","L":830,"a":800,"f":18.62},{"c":"0,9","r":"10","k":"a","L":830,"a":825,"f":15.31},{"c":"0,9","r":"10","k":"a","L":830,"a":850,"f":11.40},
{"c":"0,9","r":"10","k":"a","L":840,"a":650,"f":28.90},{"c":"0,9","r":"10","k":"a","L":840,"a":675,"f":29.18},{"c":"0,9","r":"10","k":"a","L":840,"a":700,"f":28.86},{"c":"0,9","r":"10","k":"a","L":840,"a":725,"f":27.94},{"c":"0,9","r":"10","k":"a","L":840,"a":750,"f":26.42},{"c":"0,9","r":"10","k":"a","L":840,"a":775,"f":24.31},{"c":"0,9","r":"10","k":"a","L":840,"a":800,"f":21.60},{"c":"0,9","r":"10","k":"a","L":840,"a":825,"f":18.29},{"c":"0,9","r":"10","k":"a","L":840,"a":850,"f":14.38},

{"c":"0,725","r":"10","k":"a","L":760,"a":650,"f":3.07},{"c":"0,725","r":"10","k":"a","L":760,"a":850,"f":-5.51},
{"c":"0,725","r":"10","k":"a","L":770,"a":650,"f":5.93},{"c":"0,725","r":"10","k":"a","L":770,"a":675,"f":6.73},{"c":"0,725","r":"10","k":"a","L":770,"a":700,"f":7.00},{"c":"0,725","r":"10","k":"a","L":770,"a":725,"f":6.73},{"c":"0,725","r":"10","k":"a","L":770,"a":750,"f":5.93},{"c":"0,725","r":"10","k":"a","L":770,"a":775,"f":4.59},{"c":"0,725","r":"10","k":"a","L":770,"a":800,"f":2.71},{"c":"0,725","r":"10","k":"a","L":770,"a":825,"f":0.30},{"c":"0,725","r":"10","k":"a","L":770,"a":850,"f":-2.65},
{"c":"0,725","r":"10","k":"a","L":780,"a":650,"f":8.79},{"c":"0,725","r":"10","k":"a","L":780,"a":675,"f":9.59},{"c":"0,725","r":"10","k":"a","L":780,"a":700,"f":9.86},{"c":"0,725","r":"10","k":"a","L":780,"a":725,"f":9.59},{"c":"0,725","r":"10","k":"a","L":780,"a":750,"f":8.79},{"c":"0,725","r":"10","k":"a","L":780,"a":775,"f":7.45},{"c":"0,725","r":"10","k":"a","L":780,"a":800,"f":5.57},{"c":"0,725","r":"10","k":"a","L":780,"a":825,"f":3.16},{"c":"0,725","r":"10","k":"a","L":780,"a":850,"f":0.21},
{"c":"0,725","r":"10","k":"a","L":790,"a":650,"f":11.64},{"c":"0,725","r":"10","k":"a","L":790,"a":675,"f":12.44},{"c":"0,725","r":"10","k":"a","L":790,"a":700,"f":12.71},{"c":"0,725","r":"10","k":"a","L":790,"a":725,"f":12.44},{"c":"0,725","r":"10","k":"a","L":790,"a":750,"f":11.64},{"c":"0,725","r":"10","k":"a","L":790,"a":775,"f":10.30},{"c":"0,725","r":"10","k":"a","L":790,"a":800,"f":8.42},{"c":"0,725","r":"10","k":"a","L":790,"a":825,"f":6.01},{"c":"0,725","r":"10","k":"a","L":790,"a":850,"f":3.06},
{"c":"0,725","r":"10","k":"a","L":800,"a":650,"f":14.50},{"c":"0,725","r":"10","k":"a","L":800,"a":675,"f":15.30},{"c":"0,725","r":"10","k":"a","L":800,"a":700,"f":15.57},{"c":"0,725","r":"10","k":"a","L":800,"a":725,"f":15.30},{"c":"0,725","r":"10","k":"a","L":800,"a":750,"f":14.50},{"c":"0,725","r":"10","k":"a","L":800,"a":775,"f":13.16},{"c":"0,725","r":"10","k":"a","L":800,"a":800,"f":11.28},{"c":"0,725","r":"10","k":"a","L":800,"a":825,"f":8.87},{"c":"0,725","r":"10","k":"a","L":800,"a":850,"f":5.92},
{"c":"0,725","r":"10","k":"a","L":810,"a":650,"f":17.36},{"c":"0,725","r":"10","k":"a","L":810,"a":675,"f":18.16},{"c":"0,725","r":"10","k":"a","L":810,"a":700,"f":18.43},{"c":"0,725","r":"10","k":"a","L":810,"a":725,"f":18.16},{"c":"0,725","r":"10","k":"a","L":810,"a":750,"f":17.36},{"c":"0,725","r":"10","k":"a","L":810,"a":775,"f":16.02},{"c":"0,725","r":"10","k":"a","L":810,"a":800,"f":14.14},{"c":"0,725","r":"10","k":"a","L":810,"a":825,"f":11.73},{"c":"0,725","r":"10","k":"a","L":810,"a":850,"f":8.78},
{"c":"0,725","r":"10","k":"a","L":820,"a":650,"f":20.22},{"c":"0,725","r":"10","k":"a","L":820,"a":675,"f":21.02},{"c":"0,725","r":"10","k":"a","L":820,"a":700,"f":21.29},{"c":"0,725","r":"10","k":"a","L":820,"a":725,"f":21.02},{"c":"0,725","r":"10","k":"a","L":820,"a":750,"f":20.22},{"c":"0,725","r":"10","k":"a","L":820,"a":775,"f":18.88},{"c":"0,725","r":"10","k":"a","L":820,"a":800,"f":17.00},{"c":"0,725","r":"10","k":"a","L":820,"a":825,"f":14.59},{"c":"0,725","r":"10","k":"a","L":820,"a":850,"f":11.64},
{"c":"0,725","r":"10","k":"a","L":830,"a":650,"f":23.07},{"c":"0,725","r":"10","k":"a","L":830,"a":675,"f":23.87},{"c":"0,725","r":"10","k":"a","L":830,"a":700,"f":24.14},{"c":"0,725","r":"10","k":"a","L":830,"a":725,"f":23.87},{"c":"0,725","r":"10","k":"a","L":830,"a":750,"f":23.07},{"c":"0,725","r":"10","k":"a","L":830,"a":775,"f":21.73},{"c":"0,725","r":"10","k":"a","L":830,"a":800,"f":19.85},{"c":"0,725","r":"10","k":"a","L":830,"a":825,"f":17.44},{"c":"0,725","r":"10","k":"a","L":830,"a":850,"f":14.50},

{"c":"0,55","r":"10","k":"a","L":770,"a":650,"f":4.24},{"c":"0,55","r":"10","k":"a","L":770,"a":850,"f":0.56},
{"c":"0,55","r":"10","k":"a","L":780,"a":650,"f":6.99},{"c":"0,55","r":"10","k":"a","L":780,"a":675,"f":8.14},{"c":"0,55","r":"10","k":"a","L":780,"a":700,"f":8.83},{"c":"0,55","r":"10","k":"a","L":780,"a":725,"f":9.06},{"c":"0,55","r":"10","k":"a","L":780,"a":750,"f":8.83},{"c":"0,55","r":"10","k":"a","L":780,"a":775,"f":8.14},{"c":"0,55","r":"10","k":"a","L":780,"a":800,"f":6.99},{"c":"0,55","r":"10","k":"a","L":780,"a":825,"f":5.38},{"c":"0,55","r":"10","k":"a","L":780,"a":850,"f":3.31},
{"c":"0,55","r":"10","k":"a","L":790,"a":650,"f":9.73},{"c":"0,55","r":"10","k":"a","L":790,"a":675,"f":10.88},{"c":"0,55","r":"10","k":"a","L":790,"a":700,"f":11.57},{"c":"0,55","r":"10","k":"a","L":790,"a":725,"f":11.80},{"c":"0,55","r":"10","k":"a","L":790,"a":750,"f":11.57},{"c":"0,55","r":"10","k":"a","L":790,"a":775,"f":10.88},{"c":"0,55","r":"10","k":"a","L":790,"a":800,"f":9.73},{"c":"0,55","r":"10","k":"a","L":790,"a":825,"f":8.12},{"c":"0,55","r":"10","k":"a","L":790,"a":850,"f":6.05},
{"c":"0,55","r":"10","k":"a","L":800,"a":650,"f":12.48},{"c":"0,55","r":"10","k":"a","L":800,"a":675,"f":13.63},{"c":"0,55","r":"10","k":"a","L":800,"a":700,"f":14.32},{"c":"0,55","r":"10","k":"a","L":800,"a":725,"f":14.55},{"c":"0,55","r":"10","k":"a","L":800,"a":750,"f":14.32},{"c":"0,55","r":"10","k":"a","L":800,"a":775,"f":13.63},{"c":"0,55","r":"10","k":"a","L":800,"a":800,"f":12.48},{"c":"0,55","r":"10","k":"a","L":800,"a":825,"f":10.87},{"c":"0,55","r":"10","k":"a","L":800,"a":850,"f":8.80},
{"c":"0,55","r":"10","k":"a","L":810,"a":650,"f":15.23},{"c":"0,55","r":"10","k":"a","L":810,"a":675,"f":16.38},{"c":"0,55","r":"10","k":"a","L":810,"a":700,"f":17.07},{"c":"0,55","r":"10","k":"a","L":810,"a":725,"f":17.30},{"c":"0,55","r":"10","k":"a","L":810,"a":750,"f":17.07},{"c":"0,55","r":"10","k":"a","L":810,"a":775,"f":16.38},{"c":"0,55","r":"10","k":"a","L":810,"a":800,"f":15.23},{"c":"0,55","r":"10","k":"a","L":810,"a":825,"f":13.62},{"c":"0,55","r":"10","k":"a","L":810,"a":850,"f":11.55},
{"c":"0,55","r":"10","k":"a","L":820,"a":650,"f":17.98},{"c":"0,55","r":"10","k":"a","L":820,"a":675,"f":19.13},{"c":"0,55","r":"10","k":"a","L":820,"a":700,"f":19.82},{"c":"0,55","r":"10","k":"a","L":820,"a":725,"f":20.05},{"c":"0,55","r":"10","k":"a","L":820,"a":750,"f":19.82},{"c":"0,55","r":"10","k":"a","L":820,"a":775,"f":19.13},{"c":"0,55","r":"10","k":"a","L":820,"a":800,"f":17.98},{"c":"0,55","r":"10","k":"a","L":820,"a":825,"f":16.37},{"c":"0,55","r":"10","k":"a","L":820,"a":850,"f":14.30},

{"c":"0,9","r":"15","k":"l","L":850,"a":841,"f":13.24,"t":"850"},{"c":"0,9","r":"15","k":"l","L":840,"a":832.6,"f":11.66,"t":"840"},{"c":"0,9","r":"15","k":"l","L":830,"a":818.6,"f":10.65,"t":"830"},{"c":"0,9","r":"15","k":"l","L":820,"a":786.4,"f":11.5,"t":"820"},{"c":"0,9","r":"15","k":"l","L":810,"a":744.6,"f":12.17,"t":"810"},{"c":"0,9","r":"15","k":"l","L":800,"a":658,"f":11.38,"t":"800"},{"c":"0,9","r":"15","k":"l","L":790,"a":664,"f":8.57,"t":"790"},{"c":"0,9","r":"15","k":"t","a":762,"f":7.98,"t":"Target"},
{"c":"0,725","r":"15","k":"l","L":840,"a":825,"f":13.9,"t":"840"},{"c":"0,725","r":"15","k":"l","L":830,"a":825,"f":11.13,"t":"830"},{"c":"0,725","r":"15","k":"l","L":820,"a":793,"f":11.5,"t":"820"},{"c":"0,725","r":"15","k":"l","L":810,"a":743,"f":12.0,"t":"810"},{"c":"0,725","r":"15","k":"l","L":800,"a":720,"f":9.9,"t":"800"},{"c":"0,725","r":"15","k":"t","a":680,"f":10.2,"t":"Target"},
{"c":"0,55","r":"15","k":"l","L":840,"a":841.3,"f":13.71,"t":"840"},{"c":"0,55","r":"15","k":"l","L":830,"a":811.7,"f":13.71,"t":"830"},{"c":"0,55","r":"15","k":"l","L":810,"a":743.7,"f":11.66,"t":"810"},{"c":"0,55","r":"15","k":"l","L":800,"a":726.3,"f":9.08,"t":"800"},{"c":"0,55","r":"15","k":"t","a":694.4,"f":8.95,"t":"Target"},
{"c":"0,9","r":"12,5","k":"l","L":840,"a":840.8,"f":13.49,"t":"840"},{"c":"0,9","r":"12,5","k":"l","L":830,"a":840.8,"f":10.24,"t":"830"},{"c":"0,9","r":"12,5","k":"l","L":820,"a":810.8,"f":11.44,"t":"820"},{"c":"0,9","r":"12,5","k":"l","L":810,"a":784.6,"f":11.5,"t":"810"},{"c":"0,9","r":"12,5","k":"l","L":800,"a":755.9,"f":11.19,"t":"800"},{"c":"0,9","r":"12,5","k":"l","L":790,"a":742.8,"f":9.17,"t":"790"},{"c":"0,9","r":"12,5","k":"t","a":686.2,"f":14.18,"t":"Target"},
{"c":"0,725","r":"12,5","k":"l","L":830,"a":833.5,"f":13.6,"t":"830"},{"c":"0,725","r":"12,5","k":"l","L":820,"a":825.4,"f":11.6,"t":"820"},{"c":"0,725","r":"12,5","k":"l","L":810,"a":797,"f":11.5,"t":"810"},{"c":"0,725","r":"12,5","k":"l","L":800,"a":763.3,"f":11.0,"t":"800"},{"c":"0,725","r":"12,5","k":"l","L":790,"a":744,"f":9.0,"t":"790"},{"c":"0,725","r":"12,5","k":"t","a":715,"f":12.7,"t":"Target"},
{"c":"0,55","r":"12,5","k":"l","L":830,"a":843,"f":14.0,"t":"830"},{"c":"0,55","r":"12,5","k":"l","L":820,"a":830,"f":12.5,"t":"820"},{"c":"0,55","r":"12,5","k":"l","L":810,"a":800.5,"f":12.0,"t":"810"},{"c":"0,55","r":"12,5","k":"l","L":800,"a":764,"f":11.0,"t":"800"},{"c":"0,55","r":"12,5","k":"l","L":790,"a":751.7,"f":8.5,"t":"790"},{"c":"0,55","r":"12,5","k":"t","a":696.6,"f":11.5,"t":"Target"},
{"c":"0,9","r":"10","k":"l","L":830,"a":839.5,"f":12.95,"t":"830"},{"c":"0,9","r":"10","k":"l","L":820,"a":836,"f":10.7,"t":"820"},{"c":"0,9","r":"10","k":"l","L":810,"a":827,"f":9.0,"t":"810"},{"c":"0,9","r":"10","k":"l","L":800,"a":755,"f":14.0,"t":"800"},{"c":"0,9","r":"10","k":"l","L":790,"a":735,"f":12.5,"t":"790"},{"c":"0,9","r":"10","k":"l","L":780,"a":726,"f":10.0,"t":"780"},{"c":"0,9","r":"10","k":"l","L":770,"a":687,"f":8.2,"t":"770"},{"c":"0,9","r":"10","k":"t","a":785,"f":11.5,"t":"Target"},
{"c":"0,725","r":"10","k":"l","L":820,"a":837,"f":13.2,"t":"820"},{"c":"0,725","r":"10","k":"l","L":810,"a":830,"f":11.2,"t":"810"},{"c":"0,725","r":"10","k":"l","L":800,"a":812,"f":10.2,"t":"800"},{"c":"0,725","r":"10","k":"l","L":790,"a":748,"f":11.7,"t":"790"},{"c":"0,725","r":"10","k":"l","L":780,"a":667,"f":9.39,"t":"780"},{"c":"0,725","r":"10","k":"t","a":785,"f":12.7,"t":"Target"},
{"c":"0,55","r":"10","k":"l","L":810,"a":818,"f":14.1,"t":"810"},{"c":"0,55","r":"10","k":"l","L":800,"a":830,"f":10.5,"t":"800"},{"c":"0,55","r":"10","k":"l","L":790,"a":760,"f":11.3,"t":"790"},{"c":"0,55","r":"10","k":"l","L":780,"a":671.8,"f":7.76,"t":"780"},{"c":"0,55","r":"10","k":"t","a":700,"f":14.5,"t":"Target"}
  ]},
  "facet": {
    "row": {"field": "r", "type": "nominal", "sort": ["15", "12,5", "10"], "title": null,
            "header": {"labelExpr": "'Combustion air 2 flap position [%] = ' + datum.value", "labelAngle": 270, "labelOrient": "left", "labelFontSize": 12.5, "labelPadding": 4}},
    "column": {"field": "c", "type": "nominal", "sort": ["0,9", "0,725", "0,55"], "title": null,
               "header": {"labelExpr": "'Steam to fuel ratio = ' + datum.value", "labelAngle": 180, "labelOrient": "top", "labelFontSize": 12, "labelPadding": 7}}
  },
  "spacing": {"row": 9, "column": 9},
  "spec": {
    "width": 254, "height": 459,
    "encoding": {
      "x": {"field": "f", "type": "quantitative", "title": "Fuel oil EL [l/h]",
            "scale": {"domain": [7, 15], "reverse": true, "nice": false, "zero": false},
            "axis": {"orient": "bottom", "values": [7,7.5,8,8.5,9,9.5,10,10.5,11,11.5,12,12.5,13,13.5,14,14.5,15], "format": "d", "labelExpr": "datum.value % 1 == 0 ? datum.label : ''", "labelAngle": 270, "labelAlign": "right", "labelBaseline": "middle", "tickSize": 4, "labelPadding": 1, "labelFlush": false, "labelOverlap": false, "titleAngle": 180, "titleBaseline": "bottom", "titlePadding": 0, "titleFontSize": 10}},
      "y": {"field": "a", "type": "quantitative", "title": "Combustion air [Nm³/h]",
            "scale": {"domain": [650, 850], "nice": false, "zero": false},
            "axis": {"orient": "right", "values": [650,655,660,665,670,675,680,685,690,695,700,705,710,715,720,725,730,735,740,745,750,755,760,765,770,775,780,785,790,795,800,805,810,815,820,825,830,835,840,845,850], "format": "d", "labelExpr": "datum.value % 20 == 0 ? datum.label : ''", "labelAngle": 270, "labelAlign": "center", "labelBaseline": "top", "tickSize": 5, "labelPadding": 3, "labelFlush": false, "labelOverlap": false, "titleAngle": 270, "titleBaseline": "top", "titlePadding": 3}}
    },
    "layer": [
      {"transform": [{"filter": "datum.k == 'a'"}],
       "mark": {"type": "area", "orient": "horizontal", "interpolate": "natural", "clip": true},
       "encoding": {
         "x2": {"datum": 15},
         "fill": {"field": "L", "type": "ordinal", "legend": null,
                  "scale": {"domain": [760,770,780,790,800,810,820,830,840,850,860], "range": ["#0a66ad","#0a90bd","#00a096","#00a35c","#10a930","#3aae1a","#7cb800","#c6c000","#dea200","#d6640c","#d42f10"]}},
         "detail": {"field": "L"}
       }},
      {"transform": [{"filter": "datum.k == 'a' && datum.L != 800"}],
       "mark": {"type": "line", "interpolate": "natural", "clip": true, "color": "#000000", "strokeWidth": 0.8, "opacity": 0.28},
       "encoding": {"detail": {"field": "L"}, "order": {"field": "a", "type": "quantitative"}}},
      {"transform": [{"filter": "datum.k == 'a' && datum.L == 800"}],
       "mark": {"type": "line", "interpolate": "natural", "clip": true, "color": "#000000", "strokeWidth": 1.8, "strokeDash": [6, 4]},
       "encoding": {"order": {"field": "a", "type": "quantitative"}}},
      {"transform": [{"filter": "datum.k == 'l'"}],
       "mark": {"type": "point", "shape": "M-0.79,-1L0.79,-1L0.79,1L-0.79,1Z", "size": 841, "filled": true, "fill": "#ffffff", "stroke": "#8f8f80", "strokeWidth": 0.8, "opacity": 1}},
      {"transform": [{"filter": "datum.k == 'l'"}],
       "mark": {"type": "text", "angle": 270, "fontSize": 10.5, "align": "center", "baseline": "middle"},
       "encoding": {"text": {"field": "t"},
         "color": {"field": "L", "type": "ordinal", "legend": null,
                   "scale": {"domain": [770,780,790,800,810,820,830,840,850], "range": ["#2a6aa0","#1a7f9a","#108a78","#14905a","#2e9640","#5a9a18","#8c9800","#a88400","#b05a10"]}}}},
      {"transform": [{"filter": "datum.k == 't'"}],
       "mark": {"type": "point", "shape": "M-0.55,-1L0.55,-1L0.55,1L-0.55,1Z", "size": 1936, "filled": true, "fill": "#ffffff", "stroke": "#000000", "strokeWidth": 1, "opacity": 1}},
      {"transform": [{"filter": "datum.k == 't'"}],
       "mark": {"type": "text", "angle": 270, "fontSize": 11, "align": "center", "baseline": "middle", "color": "#000000"},
       "encoding": {"text": {"field": "t"}}}
    ]
  }
}
]
}
